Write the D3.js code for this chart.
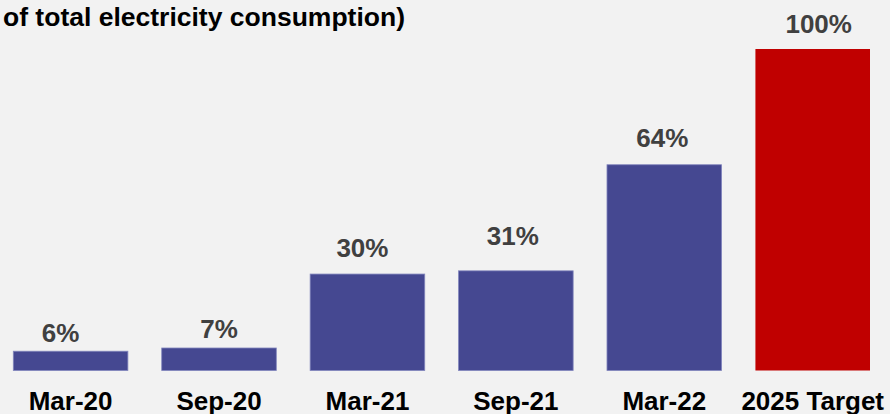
<!DOCTYPE html>
<html>
<head>
<meta charset="utf-8">
<script src="https://cdn.jsdelivr.net/npm/d3@7"></script>
<style>
  html, body { margin: 0; padding: 0; background: #f2f2f2; }
  svg { display: block; font-family: "Liberation Sans", Arial, sans-serif; }
</style>
</head>
<body>
<svg id="chart" width="890" height="414"></svg>
<script>
// Renewable share of total electricity consumption, by period
const periods = ["Mar-20", "Sep-20", "Mar-21", "Sep-21", "Mar-22", "2025 Target"];
const shares = [6, 7, 30, 31, 64, 100];
const valueLabels = ["6%", "7%", "30%", "31%", "64%", "100%"];
const isTarget = [false, false, false, false, false, true];

// Per-label nudges for the value labels (dx, baseline lift above bar top)
const labelDx = [-10, 0, -5, -3, -2, 6];
const labelLift = [9, 10, 17, 26, 18, 16];

const width = 890, height = 414;
const svg = d3.select("#chart");

const x = d3.scaleBand()
  .domain(periods)
  .range([13.3, 870])
  .paddingInner(0.228)
  .paddingOuter(0);

const y = d3.scaleLinear()
  .domain([0, 100])
  .range([370.5, 49]);

svg.append("rect")
  .attr("width", width).attr("height", height)
  .attr("fill", "#f2f2f2");

// Title (second line of the heading)
svg.append("text")
  .attr("x", 3).attr("y", 26)
  .attr("font-size", "26.5px")
  .attr("font-weight", "bold")
  .attr("fill", "#000")
  .text("of total electricity consumption)");

const data = periods.map((p, i) => ({ p, v: shares[i], label: valueLabels[i], target: isTarget[i], i }));

svg.append("g").selectAll("rect")
  .data(data)
  .join("rect")
  .attr("x", d => x(d.p))
  .attr("y", d => y(d.v))
  .attr("width", x.bandwidth())
  .attr("height", d => y(0) - y(d.v))
  .attr("fill", d => d.target ? "#c00000" : "#454891")
  .attr("stroke", d => d.target ? "none" : "#8286bd")
  .attr("stroke-width", 0.8);

svg.append("g").selectAll("text")
  .data(data)
  .join("text")
  .attr("x", d => x(d.p) + x.bandwidth() / 2 + labelDx[d.i])
  .attr("y", d => y(d.v) - labelLift[d.i])
  .attr("text-anchor", "middle")
  .attr("font-size", "26px")
  .attr("font-weight", "bold")
  .attr("fill", "#404040")
  .text(d => d.label);

// Category axis labels
const xAxis = d3.axisBottom(x).tickSize(0).tickPadding(0);
const gx = svg.append("g")
  .attr("transform", `translate(0, ${y(0)})`)
  .call(xAxis);
gx.select(".domain").remove();
gx.selectAll("text")
  .attr("y", null)
  .attr("dy", null)
  .attr("transform", "translate(0, 39)")
  .attr("font-size", "26px")
  .attr("font-weight", "bold")
  .attr("font-family", "'Liberation Sans', Arial, sans-serif")
  .attr("fill", "#000");
</script>
</body>
</html>
